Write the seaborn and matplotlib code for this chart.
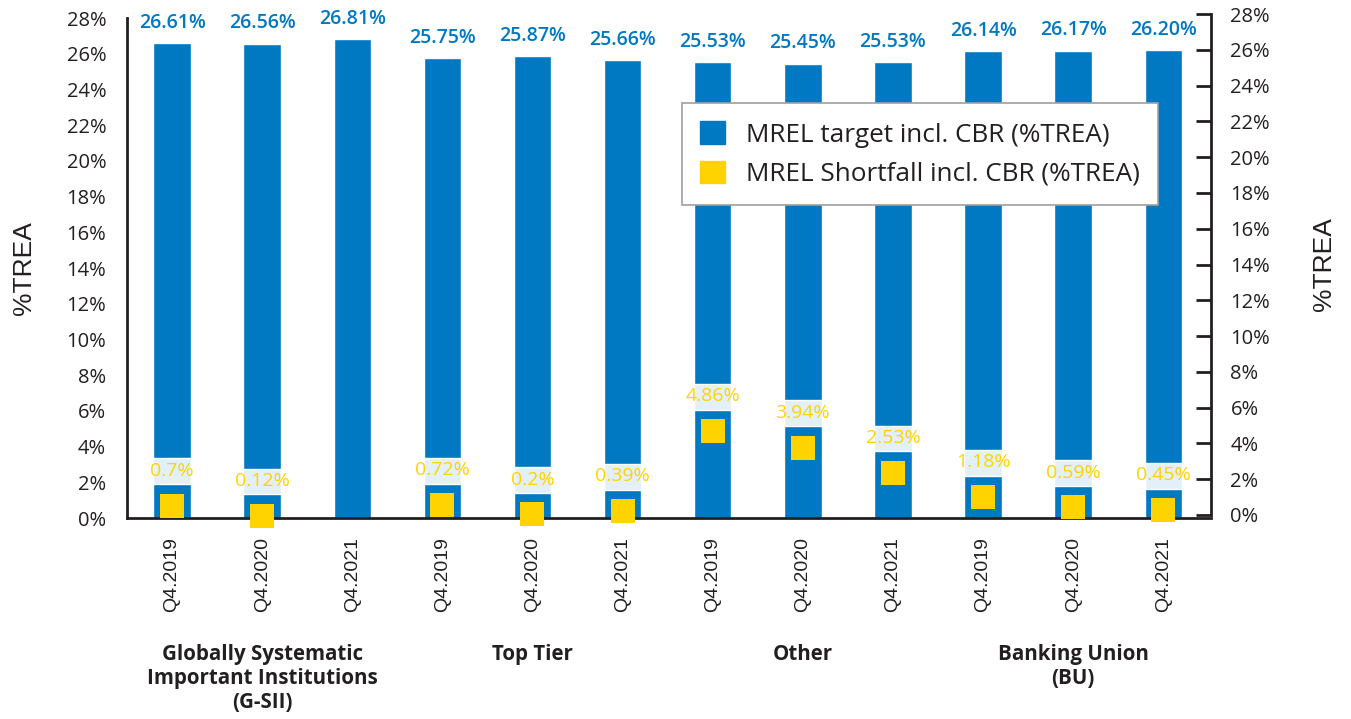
import numpy as np
import pandas as pd
import matplotlib
matplotlib.use('Agg')
import matplotlib.pyplot as plt
import seaborn as sns
from matplotlib.patches import Patch

quarters = ['Q4.2019', 'Q4.2020', 'Q4.2021'] * 4
groups = ['Globally Systematic\nImportant Institutions\n(G-SII)', 'Top Tier', 'Other', 'Banking Union\n(BU)']
target = [26.61, 26.56, 26.81, 25.75, 25.87, 25.66, 25.53, 25.45, 25.53, 26.14, 26.17, 26.20]
shortfall = [0.7, 0.12, np.nan, 0.72, 0.2, 0.39, 4.86, 3.94, 2.53, 1.18, 0.59, 0.45]
short_labels = ['0.7%', '0.12%', '', '0.72%', '0.2%', '0.39%', '4.86%', '3.94%', '2.53%', '1.18%', '0.59%', '0.45%']

BLUE = '#0079C2'
YELLOW = '#FFD300'
PALE = '#E3F0F8'
DARK = '#231F20'

sns.set_style('white')
plt.rcParams['font.family'] = ['Open Sans', 'DejaVu Sans']

df = pd.DataFrame({'id': [f'{i}' for i in range(12)], 'target': target,
                   'shortfall': shortfall, 'pos': np.arange(12)})

fig = plt.figure(figsize=(13.51, 7.19), dpi=100)
ax = fig.add_axes([127 / 1351, 1 - 518 / 719, (1211 - 127) / 1351, 500 / 719])

sns.barplot(data=df, x='id', y='target', color=BLUE, width=0.415, saturation=1, ax=ax, zorder=1)
# pale boxes behind shortfall labels
ax.bar(df['pos'], 1.45, bottom=df['shortfall'] + 1.2, width=0.415, color=PALE, zorder=2)
sns.scatterplot(data=df, x='pos', y='shortfall', marker='s', s=280, color=YELLOW,
                linewidth=0, ax=ax, zorder=3, clip_on=False)

for i in range(12):
    ax.annotate(f'{target[i]:.2f}%', (i, target[i]), xytext=(0, 11), textcoords='offset points',
                ha='center', va='baseline', color=BLUE, fontsize=14, fontweight='semibold')
    if short_labels[i]:
        ax.text(i, shortfall[i] + 1.95, short_labels[i], ha='center', va='center',
                color=YELLOW, fontsize=14, zorder=4)

ax.set_xlim(-0.45, 11.53)
ax.set_ylim(0, 28)
ax.set_yticks(range(0, 29, 2))
ax.set_yticklabels([f'{v}%' for v in range(0, 29, 2)])
ax.set_xticks(range(12))
ax.set_xticklabels(quarters, rotation=90, family=['Liberation Sans', 'DejaVu Sans'], fontsize=14, color=DARK)
ax.tick_params(axis='x', length=0, pad=14)
ax.set_xticks(np.arange(-0.5, 12, 1), minor=True)
ax.tick_params(axis='x', which='minor', direction='in', length=12, width=2, color=DARK)
ax.tick_params(axis='y', direction='in', length=14, width=2, color=DARK, labelsize=14.5,
               labelcolor=DARK, pad=15)
ax.set_xlabel('')
ax.set_ylabel('%TREA', fontsize=19, family=['Liberation Sans', 'DejaVu Sans'], color=DARK, labelpad=22)
for s in ['top', 'right']:
    ax.spines[s].set_visible(False)
for s in ['left', 'bottom']:
    ax.spines[s].set_linewidth(2)
    ax.spines[s].set_color(DARK)

for g, name in enumerate(groups):
    ax.text(g * 3 + 1, -0.252, name, transform=ax.get_xaxis_transform(), ha='center', va='top',
            fontsize=14.8, fontweight='bold', color=DARK, linespacing=1.2)

# right axis
ax2 = fig.add_axes([127 / 1351, 1 - 515 / 719, (1211 - 127) / 1351, 501 / 719])
ax2.patch.set_visible(False)
ax2.set_xlim(ax.get_xlim())
ax2.set_ylim(0, 28)
ax2.set_xticks([])
ax2.yaxis.tick_right()
ax2.yaxis.set_label_position('right')
ax2.set_yticks(range(0, 29, 2))
ax2.set_yticklabels([f'{v}%' for v in range(0, 29, 2)])
ax2.tick_params(axis='y', direction='in', length=11, width=2, color=DARK, labelsize=14.5,
                labelcolor=DARK, pad=14)
for s in ['top', 'left', 'bottom']:
    ax2.spines[s].set_visible(False)
ax2.spines['right'].set_linewidth(2)
ax2.spines['right'].set_color(DARK)
ax2.set_ylabel('%TREA', fontsize=19, family=['Liberation Sans', 'DejaVu Sans'], color=DARK, labelpad=30)

handles = [Patch(color=BLUE, label='MREL target incl. CBR (%TREA)'),
           Patch(color=YELLOW, label='MREL Shortfall incl. CBR (%TREA)')]
leg = ax.legend(handles=handles, loc='upper left', bbox_to_anchor=(0.512, 0.83), fontsize=18.8,
                frameon=True, fancybox=False, framealpha=1, facecolor='white', edgecolor='#A0A0A0',
                handlelength=0.95, handleheight=0.95, handletextpad=0.8, labelspacing=0.5,
                borderpad=0.7, borderaxespad=0)
leg.get_frame().set_linewidth(1.2)
for t in leg.get_texts():
    t.set_color(DARK)

fig.savefig('out.png', dpi=100)
